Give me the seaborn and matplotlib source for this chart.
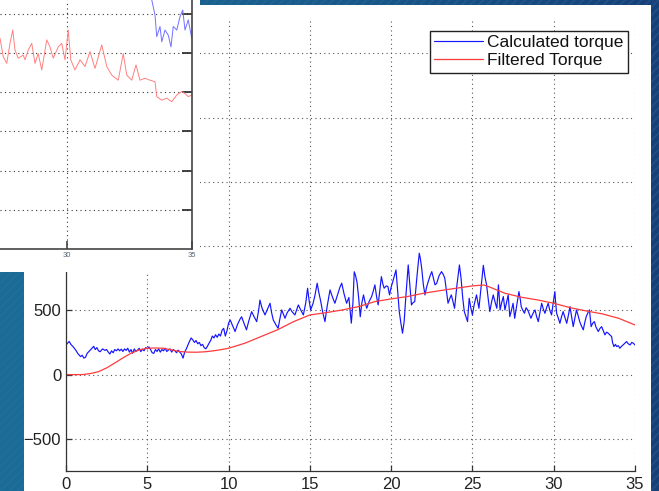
import numpy as np
import pandas as pd
import matplotlib
matplotlib.use("Agg")
import matplotlib.pyplot as plt
from matplotlib.patches import Rectangle
import seaborn as sns

# ---------------- data ----------------
calc_t = [0.0, 0.1, 0.2, 0.3, 0.45, 0.6, 0.75, 0.9, 1.0, 1.1, 1.2, 1.3, 1.45, 1.6, 1.7, 1.8, 1.9,
          2.0, 2.1, 2.25, 2.4, 2.5, 2.6, 2.7, 2.8, 2.9, 3.0, 3.1, 3.2, 3.3, 3.4, 3.5, 3.6, 3.7, 3.8, 3.9,
          4.0, 4.1, 4.2, 4.3, 4.4, 4.5, 4.6, 4.7, 4.8, 4.9, 5.0, 5.1, 5.2, 5.3, 5.4, 5.5, 5.6, 5.7, 5.8, 5.9,
          6.0, 6.1, 6.2, 6.3, 6.4, 6.5, 6.6, 6.7, 6.8, 6.9, 7.0, 7.1, 7.2, 7.3, 7.4, 7.5, 7.6, 7.7, 7.8, 7.9,
          8.0, 8.1, 8.2, 8.3, 8.4, 8.5, 8.6, 8.7, 8.8, 8.9, 9.0, 9.1, 9.2, 9.3, 9.4, 9.5, 9.6, 9.7, 9.8, 9.9,
          10.0, 10.1, 10.25, 10.4, 10.55, 10.7, 10.8, 10.95, 11.1, 11.25, 11.42, 11.55, 11.73, 11.85, 11.93,
          12.05, 12.24, 12.4, 12.55, 12.65, 12.75, 12.9, 13.05, 13.15, 13.27, 13.37, 13.47, 13.6, 13.78, 13.9,
          14.08, 14.2, 14.29, 14.45, 14.6, 14.75, 14.86, 14.95, 15.05, 15.2, 15.32, 15.45, 15.55, 15.65, 15.8,
          15.93, 16.05, 16.24, 16.4, 16.54, 16.7, 16.85, 16.96, 17.1, 17.26, 17.4, 17.55, 17.65, 17.73, 17.8,
          17.9, 18.0, 18.1, 18.2, 18.3, 18.4, 18.5, 18.65, 18.8, 18.9, 19.0, 19.1, 19.2, 19.3, 19.4, 19.5,
          19.57, 19.7, 19.8, 19.9, 20.0, 20.1, 20.2, 20.3, 20.4, 20.5, 20.6, 20.7, 20.8, 20.9, 21.05, 21.15,
          21.25, 21.35, 21.45, 21.6, 21.73, 21.8, 21.88, 21.98, 22.08, 22.18, 22.28, 22.4, 22.5, 22.6, 22.7,
          22.8, 22.95, 23.1, 23.2, 23.3, 23.4, 23.5, 23.6, 23.7, 23.8, 23.9, 24.05, 24.2, 24.3, 24.4, 24.5,
          24.6, 24.7, 24.8, 24.9, 25.0, 25.1, 25.25, 25.32, 25.4, 25.55, 25.67, 25.77, 25.87, 25.97, 26.07,
          26.17, 26.28, 26.4, 26.5, 26.6, 26.7, 26.8, 26.9, 27.0, 27.1, 27.2, 27.3, 27.4, 27.5, 27.6, 27.75,
          27.86, 27.95, 28.0, 28.1, 28.2, 28.3, 28.4, 28.5, 28.6, 28.7, 28.85, 28.95, 29.05, 29.15, 29.26,
          29.36, 29.46, 29.56, 29.66, 29.76, 29.87, 29.97, 30.07, 30.12, 30.18, 30.28, 30.38, 30.48, 30.58,
          30.7, 30.8, 30.9, 31.0, 31.1, 31.2, 31.3, 31.4, 31.5, 31.6, 31.7, 31.82, 31.9, 32.0, 32.1, 32.2,
          32.3, 32.4, 32.5, 32.6, 32.74, 32.85, 32.95, 33.05, 33.15, 33.25, 33.35, 33.45, 33.56, 33.62, 33.7,
          33.8, 33.87, 33.97, 34.07, 34.17, 34.27, 34.38, 34.48, 34.58, 34.7, 34.8, 34.9, 35.0]
calc_torque = [230, 245, 258, 235, 215, 190, 160, 140, 150, 128, 135, 165, 185, 205, 220, 195, 210,
               185, 178, 200, 188, 195, 175, 160, 185, 170, 195, 185, 200, 185, 198, 180, 200, 188, 205, 175,
               195, 165, 200, 180, 190, 205, 178, 198, 185, 210, 200, 215, 195, 170, 165, 195, 180, 200, 175, 195,
               185, 205, 180, 190, 200, 175, 195, 185, 170, 190, 175, 160, 128, 175, 200, 230, 260, 285, 270, 250,
               265, 240, 250, 225, 235, 210, 200, 220, 245, 265, 300, 285, 310, 290, 315, 300, 345, 360, 300, 340,
               400, 425, 380, 335, 390, 430, 450, 400, 348, 420, 490, 455, 412, 500, 580,
               520, 464, 510, 555, 480, 425, 390, 360, 430, 503, 470, 438, 480, 516, 490,
               464, 510, 542, 500, 464, 560, 672, 580, 503, 555, 620, 711, 640, 581, 480,
               412, 520, 659, 600, 555, 620, 680, 711, 630, 555, 600, 400, 560, 800, 775,
               720, 600, 450, 560, 620, 560, 516, 570, 607, 650, 698, 610, 542, 650, 762, 700,
               672, 690, 685, 620, 680, 723, 770, 814, 650, 490, 400, 322, 412, 600, 853, 700,
               542, 560, 568, 780, 944, 900, 827, 700, 620, 680, 723, 770, 801, 750, 698,
               710, 770, 801, 780, 750, 650, 555, 590, 620, 570, 516, 700, 853, 750, 600, 490,
               450, 412, 594, 520, 464, 540, 620, 570, 516, 700, 850, 760, 698, 590, 490,
               560, 620, 560, 516, 698, 503, 560, 607, 503, 560, 620, 451, 500, 555, 438, 560,
               646, 580, 529, 500, 477, 520, 503, 470, 438, 470, 503, 450, 412, 480, 555,
               510, 477, 520, 555, 500, 464, 560, 646, 560, 477, 440, 399, 450, 490,
               440, 399, 460, 529, 450, 373, 440, 503, 460, 412, 380, 348, 400, 451, 480, 503,
               373, 400, 412, 370, 335, 360, 373, 340, 309, 330, 322, 310, 296, 250, 218,
               235, 218, 225, 205, 220, 231, 245, 257, 240, 231, 250, 244, 230]

filt_t = [0, 1, 1.5, 2, 2.5, 3, 3.5, 4, 4.5, 5, 5.5, 6, 6.5, 7, 7.5, 8, 8.5, 9, 9.5, 10, 11, 12, 13,
          14, 15, 16, 17, 18, 19, 20, 21, 22, 23, 24, 25, 25.7, 26, 27, 28, 29, 30, 31, 32, 33, 34, 35]
filt_torque = [0, 0, 8, 23, 52, 90, 130, 166, 192, 205, 207, 205, 192, 179, 175, 174, 177, 184, 193,
               205, 244, 296, 348, 412, 464, 482, 503, 529, 568, 589, 607, 633, 653, 672, 690, 697, 684,
               633, 602, 581, 555, 521, 495, 472, 438, 386]

x_ticks = [0, 5, 10, 15, 20, 25, 30, 35]
y_ticks = [-500, 0, 500, 1000, 1500, 2000, 2500]
y_tick_labels = ["\u2212500", "0", "500", "", "", "", ""]
legend_labels = ["Calculated torque", "Filtered Torque"]

# inset (partly visible earlier figure, x in seconds, y in grid units)
ins_red_t = [27.32, 27.45, 27.59, 27.72, 27.83, 27.92, 28.05, 28.25, 28.32, 28.45, 28.59, 28.72, 28.85,
             28.99, 29.19, 29.32, 29.45, 29.65, 29.79, 29.92, 30.05, 30.15, 30.32, 30.52, 30.72, 30.92,
             31.12, 31.39, 31.59, 31.79, 32.05, 32.25, 32.39, 32.59, 32.76, 32.92, 33.12, 33.32, 33.52,
             33.59, 33.79, 33.99, 34.19, 34.39, 34.59, 34.72, 34.85, 34.99]
ins_red = [5.38, 4.91, 4.74, 5.25, 5.59, 5.08, 4.87, 4.95, 4.83, 5.08, 5.25, 4.74, 4.99, 4.57, 5.34,
           5.16, 4.87, 5.16, 5.25, 4.83, 5.59, 4.83, 4.57, 4.83, 4.66, 5.04, 4.61, 5.21, 4.66, 4.44,
           4.31, 4.99, 4.44, 4.31, 4.70, 4.31, 4.36, 4.31, 4.27, 3.89, 3.80, 3.85, 3.76, 3.93, 4.02,
           3.97, 3.89, 3.93]
ins_blue_t = [33.30, 33.39, 33.52, 33.59, 33.72, 33.79, 33.92, 34.05, 34.16, 34.25, 34.39, 34.52,
              34.63, 34.72, 34.85, 34.99]
ins_blue = [6.9, 6.36, 5.97, 5.42, 5.68, 5.29, 5.59, 5.46, 5.16, 5.68, 5.59, 5.93, 6.10, 5.59, 5.85, 5.38]
ins_x_ticks = [30, 35]
ins_y_ticks = [1, 2, 3, 4, 5, 6]

# ---------------- figure ----------------
W, H = 659, 491
fig = plt.figure(figsize=(W / 100, H / 100), dpi=100)
sns.set_style("white")
plt.rcParams["font.family"] = ["Liberation Sans", "DejaVu Sans"]


def fx(px):
    return px / W


def fy(py):
    return 1 - py / H


# blue slide background with gradient and diagonal stripes
bg = fig.add_axes([0, 0, 1, 1], zorder=-10)
grad = np.linspace(0, 1, 256)[None, :]
cmap = matplotlib.colors.LinearSegmentedColormap.from_list("bg", ["#1c6c98", "#1a5a8a", "#173f78"])
bg.imshow(grad, aspect="auto", cmap=cmap, extent=[0, 1, 0, 1])
bg.add_patch(Rectangle((0, 0), 1, 1, facecolor="none", edgecolor="#2a78a6", hatch="////", lw=0, alpha=0.35))
bg.set_xlim(0, 1)
bg.set_ylim(0, 1)
bg.axis("off")

# white panel of main figure
fig.add_artist(Rectangle((fx(24), 0), fx(651) - fx(24), fy(5), transform=fig.transFigure,
                         facecolor="white", edgecolor="none", zorder=-5))

# ---------------- main axes ----------------
ax = fig.add_axes([fx(66), 1 - 471 / H, fx(635) - fx(66), (471 - 21.1) / H], zorder=0)
ax.set_facecolor("white")
df_calc = pd.DataFrame({"t": calc_t, "v": calc_torque})
df_filt = pd.DataFrame({"t": filt_t, "v": filt_torque})
sns.lineplot(data=df_calc, x="t", y="v", ax=ax, color="#1414ff", lw=0.85, estimator=None,
             sort=False, label=legend_labels[0])
sns.lineplot(data=df_filt, x="t", y="v", ax=ax, color="#ff3a3a", lw=0.9, estimator=None,
             sort=False, label=legend_labels[1])
ax.set_xlim(0, 35)
ax.set_ylim(-750, 2750)
ax.set_xticks(x_ticks)
ax.set_xticklabels([str(v) for v in x_ticks])
ax.set_yticks(y_ticks)
ax.set_yticklabels(y_tick_labels)
ax.set_xlabel("")
ax.set_ylabel("")
ax.grid(True, linestyle=(0, (1, 3)), color="#555555", lw=0.8)
ax.tick_params(direction="in", length=4.5, width=0.9, color="#333333", labelsize=12,
               labelcolor="#222222", bottom=True, left=True)
ax.tick_params(axis="x", pad=4.5)
ax.tick_params(axis="y", pad=3.5)
for s in ["top", "right"]:
    ax.spines[s].set_visible(False)
for s in ["left", "bottom"]:
    ax.spines[s].set_color("#333333")
    ax.spines[s].set_linewidth(0.9)

leg = ax.legend(loc="upper right", bbox_to_anchor=(fx(628), fy(31)), bbox_transform=fig.transFigure,
                borderaxespad=0, fancybox=False, framealpha=1, edgecolor="#222222", fontsize=12.5,
                handlelength=2.8, handletextpad=0.25, borderpad=0.25, labelspacing=0.15)
leg.get_frame().set_linewidth(1.0)
for t in leg.get_texts():
    t.set_color("#111111")

# ---------------- inset (earlier figure overlapping) ----------------
fig.add_artist(Rectangle((0, fy(272)), fx(200), 272 / H, transform=fig.transFigure,
                         facecolor="white", edgecolor="none", zorder=1))
axi = fig.add_axes([0, fy(249), fx(192), 249 / H], zorder=2)
axi.set_facecolor("white")
df_ir = pd.DataFrame({"t": ins_red_t, "v": ins_red})
df_ib = pd.DataFrame({"t": ins_blue_t, "v": ins_blue})
sns.lineplot(data=df_ir, x="t", y="v", ax=axi, color="#ff8080", lw=0.7, estimator=None, sort=False)
sns.lineplot(data=df_ib, x="t", y="v", ax=axi, color="#7070ff", lw=0.7, estimator=None, sort=False)
axi.set_xlim(27.32, 35)
axi.set_ylim(0, 6.357)
axi.set_xticks(ins_x_ticks)
axi.set_xticklabels([str(v) for v in ins_x_ticks])
axi.set_yticks(ins_y_ticks)
axi.set_yticklabels([])
axi.set_xlabel("")
axi.set_ylabel("")
axi.grid(True, linestyle=(0, (1, 3)), color="#333333", lw=0.8)
axi.tick_params(axis="x", direction="in", length=6, width=1.2, color="#444444", labelsize=5.5,
                labelcolor="#556677", pad=2, bottom=True)
axi.tick_params(axis="y", direction="in", length=7, width=1.3, color="#333333", left=False,
                right=True, labelleft=False)
for s in ["top", "left"]:
    axi.spines[s].set_visible(False)
for s in ["right", "bottom"]:
    axi.spines[s].set_color("#444444")
    axi.spines[s].set_linewidth(1.2)
if axi.get_legend() is not None:
    axi.get_legend().remove()

fig.savefig("out.png", dpi=100)
